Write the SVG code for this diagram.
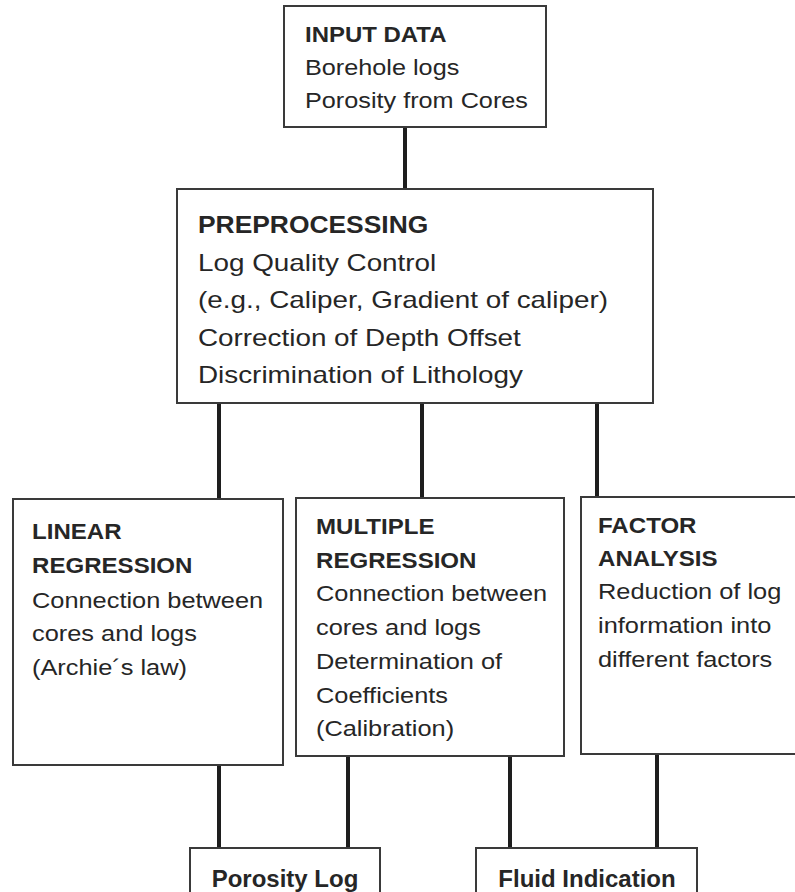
<svg xmlns="http://www.w3.org/2000/svg" width="795" height="892" viewBox="0 0 795 892">
<style>
.box{fill:#fff;stroke:#3a3a3a;stroke-width:2}
.t{font-family:"Liberation Sans",Arial,sans-serif;fill:#262626}
.s{font-size:21.5px}
.p{font-size:24px}
.b{font-weight:bold}
.con line{stroke:#1e1e1e;stroke-width:4}
</style>
<rect width="795" height="892" fill="#fff"/>
<g class="con" id="connectors">
<line x1="405" y1="127" x2="405" y2="189"/>
<line x1="219" y1="403" x2="219" y2="499"/>
<line x1="422" y1="403" x2="422" y2="498"/>
<line x1="597" y1="403" x2="597" y2="497"/>
<line x1="219" y1="765" x2="219" y2="848"/>
<line x1="348" y1="756" x2="348" y2="848"/>
<line x1="510" y1="756" x2="510" y2="848"/>
<line x1="657" y1="754" x2="657" y2="848"/>
</g>
<g id="input">
<rect class="box" x="284" y="6" width="262" height="121"/>
<text class="t s b" transform="translate(305,0) scale(1.114,1)" x="0" y="42">INPUT DATA</text>
<text class="t s" transform="translate(305,0) scale(1.174,1)" x="0" y="75">Borehole logs</text>
<text class="t s" transform="translate(305,0) scale(1.174,1)" x="0" y="108">Porosity from Cores</text>
</g>
<g id="preprocessing">
<rect class="box" x="177" y="189" width="476" height="214"/>
<text class="t p b" transform="translate(198,0) scale(1.1,1)" x="0" y="233">PREPROCESSING</text>
<text class="t p" transform="translate(198,0) scale(1.16,1)" x="0" y="271">Log Quality Control</text>
<text class="t p" transform="translate(198,0) scale(1.16,1)" x="0" y="308">(e.g., Caliper, Gradient of caliper)</text>
<text class="t p" transform="translate(198,0) scale(1.16,1)" x="0" y="346">Correction of Depth Offset</text>
<text class="t p" transform="translate(198,0) scale(1.16,1)" x="0" y="383">Discrimination of Lithology</text>
</g>
<g id="linear">
<rect class="box" x="13" y="499" width="270" height="266"/>
<text class="t s b" transform="translate(32,0) scale(1.12,1)" x="0" y="539">LINEAR</text>
<text class="t s b" transform="translate(32,0) scale(1.12,1)" x="0" y="573">REGRESSION</text>
<text class="t s" transform="translate(32,0) scale(1.18,1)" x="0" y="608">Connection between</text>
<text class="t s" transform="translate(32,0) scale(1.18,1)" x="0" y="641">cores and logs</text>
<text class="t s" transform="translate(32,0) scale(1.18,1)" x="0" y="675">(Archie´s law)</text>
</g>
<g id="multiple">
<rect class="box" x="296" y="498" width="268" height="258"/>
<text class="t s b" transform="translate(316,0) scale(1.12,1)" x="0" y="534">MULTIPLE</text>
<text class="t s b" transform="translate(316,0) scale(1.12,1)" x="0" y="568">REGRESSION</text>
<text class="t s" transform="translate(316,0) scale(1.18,1)" x="0" y="601">Connection between</text>
<text class="t s" transform="translate(316,0) scale(1.18,1)" x="0" y="635">cores and logs</text>
<text class="t s" transform="translate(316,0) scale(1.18,1)" x="0" y="669">Determination of</text>
<text class="t s" transform="translate(316,0) scale(1.18,1)" x="0" y="703">Coefficients</text>
<text class="t s" transform="translate(316,0) scale(1.18,1)" x="0" y="736">(Calibration)</text>
</g>
<g id="factor">
<rect class="box" x="581" y="497" width="230" height="257"/>
<text class="t s b" transform="translate(598,0) scale(1.12,1)" x="0" y="533">FACTOR</text>
<text class="t s b" transform="translate(598,0) scale(1.12,1)" x="0" y="566">ANALYSIS</text>
<text class="t s" transform="translate(598,0) scale(1.18,1)" x="0" y="599">Reduction of log</text>
<text class="t s" transform="translate(598,0) scale(1.18,1)" x="0" y="633">information into</text>
<text class="t s" transform="translate(598,0) scale(1.18,1)" x="0" y="667">different factors</text>
</g>
<g id="porosity">
<rect class="box" x="190" y="848" width="190" height="60"/>
<text class="t p b" x="285" y="887" text-anchor="middle">Porosity Log</text>
</g>
<g id="fluid">
<rect class="box" x="476" y="848" width="221" height="60"/>
<text class="t p b" x="587" y="887" text-anchor="middle">Fluid Indication</text>
</g>
</svg>
